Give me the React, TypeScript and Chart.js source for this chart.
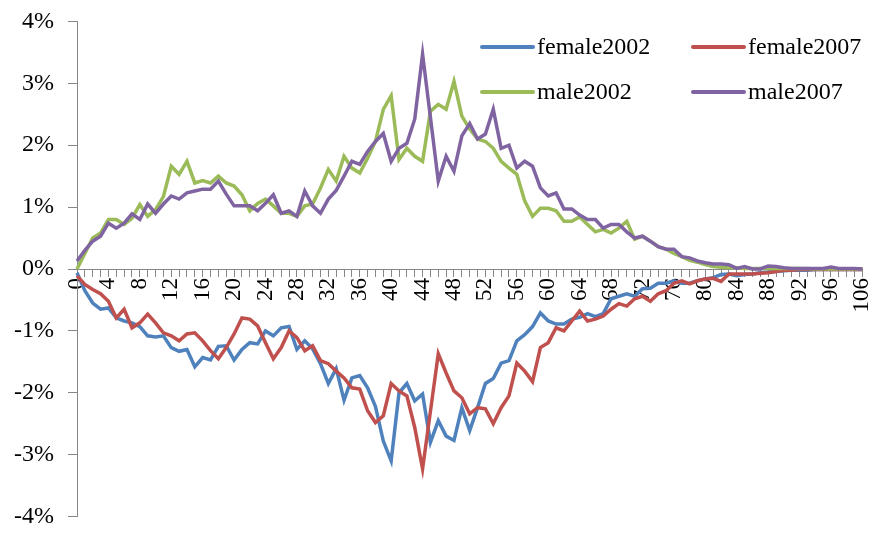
import React, { useEffect, useRef } from "react";
import { Chart, registerables } from "chart.js";

Chart.register(...registerables);

const ages: string[] = [
  "0","1","2","3","4","5","6","7","8","9",
  "10","11","12","13","14","15","16","17","18","19",
  "20","21","22","23","24","25","26","27","28","29",
  "30","31","32","33","34","35","36","37","38","39",
  "40","41","42","43","44","45","46","47","48","49",
  "50","51","52","53","54","55","56","57","58","59",
  "60","61","62","63","64","65","66","67","68","69",
  "70","71","72","73","74","75","76","77","78","79",
  "80","81","82","83","84","85","86","87","88","89",
  "90","91","92","93","94","95","96","97","98","99",
  "106",
];

const female2002: number[] = [
  -0.06, -0.35, -0.55, -0.65, -0.63, -0.79, -0.84, -0.87, -0.93, -1.08,
  -1.1, -1.08, -1.27, -1.33, -1.3, -1.58, -1.43, -1.47, -1.25, -1.24,
  -1.47, -1.3, -1.19, -1.21, -1.0, -1.08, -0.95, -0.93, -1.3, -1.16,
  -1.29, -1.53, -1.85, -1.61, -2.12, -1.76, -1.72, -1.92, -2.22, -2.78,
  -3.1, -2.0, -1.85, -2.13, -2.02, -2.8, -2.45, -2.7, -2.77, -2.24,
  -2.61, -2.24, -1.85, -1.77, -1.52, -1.48, -1.16, -1.06, -0.93, -0.71,
  -0.84, -0.89, -0.89, -0.81, -0.78, -0.72, -0.77, -0.72, -0.48, -0.44,
  -0.4, -0.44, -0.32, -0.31, -0.23, -0.23, -0.19, -0.23, -0.23, -0.19,
  -0.16, -0.14, -0.09, -0.08, -0.11, -0.09, -0.08, -0.06, -0.05, -0.04,
  -0.03, -0.02, -0.02, -0.02, -0.01, -0.01, -0.01, -0.01, -0.01, -0.01,
  -0.01,
];

const female2007: number[] = [
  -0.11, -0.25, -0.33, -0.4, -0.52, -0.79, -0.65, -0.95, -0.87, -0.73,
  -0.87, -1.03, -1.08, -1.16, -1.05, -1.03, -1.16, -1.32, -1.45, -1.27,
  -1.05, -0.79, -0.81, -0.92, -1.19, -1.45, -1.27, -1.0, -1.11, -1.32,
  -1.24, -1.48, -1.53, -1.65, -1.76, -1.92, -1.94, -2.29, -2.48, -2.37,
  -1.85, -1.97, -2.05, -2.56, -3.23, -2.3, -1.37, -1.68, -1.97, -2.08,
  -2.34, -2.24, -2.26, -2.5, -2.24, -2.05, -1.52, -1.65, -1.82, -1.27,
  -1.19, -0.95, -1.0, -0.84, -0.68, -0.84, -0.81, -0.76, -0.65, -0.56,
  -0.6, -0.48, -0.44, -0.52, -0.4, -0.35, -0.23, -0.19, -0.24, -0.19,
  -0.16, -0.15, -0.2, -0.08, -0.08, -0.08, -0.08, -0.07, -0.06, -0.04,
  -0.02, -0.02, -0.01, -0.01, -0.01, -0.01, -0.01, -0.01, -0.01, -0.01,
  -0.01,
];

const male2002: number[] = [
  0.0, 0.25, 0.5, 0.58, 0.8, 0.8, 0.72, 0.82, 1.04, 0.85,
  0.96, 1.17, 1.66, 1.53, 1.74, 1.39, 1.43, 1.39, 1.5, 1.39,
  1.34, 1.2, 0.94, 1.06, 1.13, 1.02, 0.9, 0.9, 0.85, 1.02,
  1.05, 1.31, 1.61, 1.42, 1.82, 1.63, 1.55, 1.79, 2.06, 2.58,
  2.8, 1.77, 1.95, 1.82, 1.74, 2.55, 2.66, 2.58, 3.03, 2.47,
  2.26, 2.1, 2.06, 1.95, 1.74, 1.63, 1.53, 1.1, 0.85, 0.98,
  0.98, 0.94, 0.77, 0.77, 0.84, 0.72, 0.6, 0.64, 0.58, 0.66,
  0.77, 0.48, 0.53, 0.45, 0.36, 0.32, 0.25, 0.2, 0.14, 0.11,
  0.07, 0.04, 0.03, 0.02, 0.02, 0.01, 0.01, 0.01, 0.01, 0.01,
  0.01, 0.01, 0.01, 0.01, 0.0, 0.0, 0.0, 0.0, 0.0, 0.0,
  0.0,
];

const male2007: number[] = [
  0.13, 0.3, 0.45, 0.53, 0.74, 0.66, 0.74, 0.89, 0.8, 1.05,
  0.9, 1.05, 1.18, 1.13, 1.23, 1.26, 1.29, 1.29, 1.42, 1.21,
  1.02, 1.02, 1.02, 0.94, 1.06, 1.2, 0.9, 0.94, 0.85, 1.26,
  1.02, 0.9, 1.13, 1.27, 1.5, 1.74, 1.69, 1.9, 2.06, 2.19,
  1.74, 1.95, 2.03, 2.42, 3.47, 2.45, 1.42, 1.82, 1.58, 2.15,
  2.35, 2.1, 2.18, 2.58, 1.95, 2.0, 1.63, 1.74, 1.66, 1.31,
  1.18, 1.23, 0.97, 0.97, 0.87, 0.8, 0.8, 0.66, 0.72, 0.72,
  0.6, 0.5, 0.53, 0.45, 0.36, 0.32, 0.32, 0.2, 0.18, 0.13,
  0.1, 0.08, 0.08, 0.07, 0.01, 0.04, 0.0, 0.0, 0.05, 0.04,
  0.02, 0.01, 0.01, 0.01, 0.01, 0.01, 0.03, 0.01, 0.01, 0.01,
  0.0,
];

const seriesNames = ["female2002", "female2007", "male2002", "male2007"];
const seriesColors = ["#4F81BD", "#C0504D", "#9BBB59", "#8064A2"];
const yTicks = [-4, -3, -2, -1, 0, 1, 2, 3, 4];

const FONT = "'Liberation Serif', 'Times New Roman', serif";
const SHIFT_Y = 7;

const legendPlugin = {
  id: "gridLegend",
  afterDraw(chart: any) {
    const ctx = chart.ctx;
    const cols = [482, 693];
    const rows = [47 + SHIFT_Y, 92 + SHIFT_Y];
    ctx.save();
    ctx.font = `24px ${FONT}`;
    ctx.textBaseline = "middle";
    ctx.textAlign = "left";
    chart.data.datasets.forEach((ds: any, i: number) => {
      const x = cols[i % 2];
      const y = rows[Math.floor(i / 2)];
      ctx.strokeStyle = ds.borderColor;
      ctx.lineWidth = 4;
      ctx.lineCap = "round";
      ctx.beginPath();
      ctx.moveTo(x, y);
      ctx.lineTo(x + 51, y);
      ctx.stroke();
      ctx.fillStyle = "#000";
      ctx.fillText(ds.label, x + 55, y + 1);
    });
    ctx.restore();
  },
};

export default function App() {
  const canvasRef = useRef<HTMLCanvasElement | null>(null);

  useEffect(() => {
    document.body.style.margin = "0";
    const canvas = canvasRef.current;
    if (!canvas) return;
    const allSeries = [female2002, female2007, male2002, male2007];
    const chart = new Chart(canvas, {
      type: "line",
      data: {
        labels: ages,
        datasets: allSeries.map((d, i) => ({
          label: seriesNames[i],
          data: d,
          borderColor: seriesColors[i],
          backgroundColor: seriesColors[i],
          borderWidth: 3.5,
          pointRadius: 0,
          tension: 0,
          fill: false,
          order: 4 - i,
        })),
      },
      options: {
        responsive: false,
        animation: false,
        devicePixelRatio: 1,
        layout: { padding: { left: 0, right: 13, top: 8, bottom: 6 } },
        plugins: {
          legend: { display: false },
          tooltip: { enabled: false },
        },
        scales: {
          x: {
            type: "category",
            position: { y: 0 } as any,
            offset: false,
            grid: {
              display: true,
              drawOnChartArea: false,
              drawTicks: true,
              tickLength: 7,
              color: "#868686",
            },
            border: { display: true, color: "#868686", width: 1 },
            ticks: {
              autoSkip: false,
              minRotation: 90,
              maxRotation: 90,
              padding: 2,
              color: "#000",
              font: { family: FONT, size: 23 },
              callback: (_v: any, idx: number) => (idx % 4 === 0 ? ages[idx] : ""),
            },
          },
          y: {
            type: "linear",
            position: "left",
            min: yTicks[0],
            max: yTicks[yTicks.length - 1],
            afterBuildTicks: (scale: any) => {
              scale.ticks = yTicks.map((v) => ({ value: v }));
            },
            afterFit: (scale: any) => {
              scale.width = 77;
            },
            grid: {
              display: true,
              drawOnChartArea: false,
              drawTicks: true,
              tickLength: 9,
              color: "#868686",
            },
            border: { display: true, color: "#868686", width: 1 },
            ticks: {
              padding: 14,
              color: "#000",
              font: { family: FONT, size: 24 },
              callback: (v: any) => `${v}%`,
            },
          },
        },
      },
      plugins: [legendPlugin],
    });
    return () => chart.destroy();
  }, []);

  return (
    <div
      style={{
        position: "absolute",
        left: 0,
        top: 0,
        width: 875,
        height: 534,
        overflow: "hidden",
        background: "#fff",
      }}
    >
      <canvas
        ref={canvasRef}
        width={892}
        height={552}
        style={{ position: "absolute", left: 0, top: -SHIFT_Y }}
      />
    </div>
  );
}
